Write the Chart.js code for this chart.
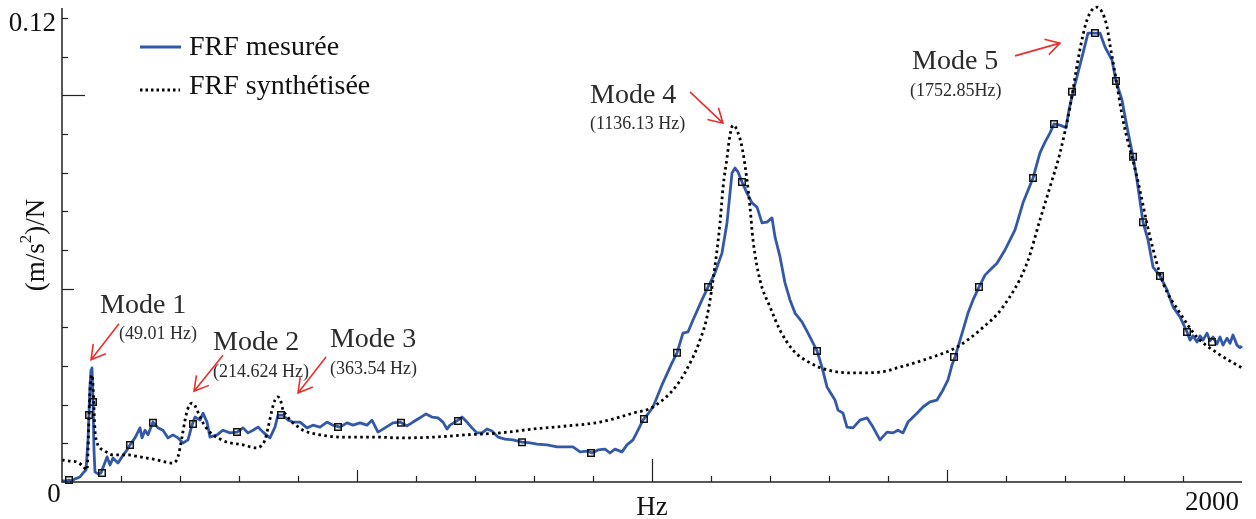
<!DOCTYPE html>
<html>
<head>
<meta charset="utf-8">
<script src="https://cdn.jsdelivr.net/npm/chart.js@4.4.1/dist/chart.umd.min.js"></script>
<style>
  html, body { margin: 0; padding: 0; background: #fff; }
  #wrap { width: 1256px; height: 519px; position: relative; }
</style>
</head>
<body>
<div id="wrap"><canvas id="c" width="1256" height="519"></canvas></div>
<script>
// ---------------- DATA ----------------
const seriesNames = ['FRF mesurée', 'FRF synthétisée'];

// Measured FRF (Hz, (m/s²)/N)
const freqMeasured = [0,6.8,11.9,16.9,22.0,30.5,37.3,40.7,44.1,47.5,49.2,50.8,52.5,54.2,55.9,61.0,66.1,71.2,76.3,81.4,86.4,94.9,101.7,110.2,115.3,123.7,132.2,135.6,140.7,145.8,154.2,162.7,171.2,179.7,188.1,196.6,205.1,213.6,220.3,225.4,233.9,239.0,245.8,250.8,262.7,272.9,284.7,296.6,306.8,315.3,323.7,332.2,340.7,352.5,361.0,366.1,374.6,383.1,391.5,403.4,415.3,425.4,437.3,449.2,459.3,471.2,483.1,493.2,505.1,516.9,525.4,535.6,547.5,561.0,572.9,584.7,594.9,606.8,616.9,627.1,637.3,645.8,652.5,657.6,671.2,678.0,686.4,694.9,703.4,711.9,720.3,728.8,739.0,750.8,764.4,779.7,793.2,805.1,822.0,839.0,849.2,866.1,878.0,889.8,898.3,908.5,920.3,928.8,937.3,949.2,957.6,967.8,974.6,984.7,993.2,1001.7,1016.9,1033.9,1042.4,1052.5,1061.0,1069.5,1084.7,1094.9,1106.8,1118.6,1127.1,1135.6,1140.7,1145.8,1152.5,1161.0,1169.5,1178.0,1186.4,1194.9,1203.4,1208.5,1217.0,1225.4,1233.9,1242.4,1254.2,1264.4,1279.7,1288.1,1296.6,1301.7,1310.2,1315.3,1323.7,1330.5,1340.7,1352.5,1364.4,1374.6,1386.4,1398.3,1408.5,1416.9,1425.4,1433.9,1449.2,1459.3,1471.2,1483.1,1493.2,1501.7,1508.5,1513.6,1518.6,1527.1,1535.6,1544.1,1554.2,1564.4,1572.9,1584.7,1598.3,1615.3,1628.8,1645.8,1654.2,1657.6,1666.1,1674.6,1681.4,1691.5,1701.7,1706.8,1713.6,1722.0,1730.5,1739.0,1750.8,1759.3,1767.8,1779.7,1786.4,1796.6,1805.1,1815.3,1822.0,1832.2,1840.7,1849.2,1861.0,1872.9,1883.1,1894.9,1906.8,1911.9,1916.9,1923.7,1928.8,1933.9,1940.7,1945.8,1950.8,1957.6,1962.7,1967.8,1974.6,1979.7,1984.7,1991.5,1996.6,2000];
const valMeasured = [0.0003,0.0003,0.0005,0.0003,0.0008,0.0013,0.0026,0.0031,0.0109,0.0251,0.0290,0.0295,0.0212,0.0083,0.0026,0.0021,0.0023,0.0044,0.0065,0.0044,0.0062,0.0049,0.0065,0.0083,0.0096,0.0114,0.0140,0.0114,0.0134,0.0122,0.0155,0.0140,0.0134,0.0114,0.0122,0.0114,0.0101,0.0109,0.0147,0.0168,0.0160,0.0178,0.0155,0.0116,0.0122,0.0134,0.0127,0.0129,0.0140,0.0127,0.0134,0.0142,0.0129,0.0114,0.0142,0.0173,0.0173,0.0160,0.0155,0.0155,0.0140,0.0147,0.0142,0.0155,0.0147,0.0142,0.0153,0.0147,0.0153,0.0147,0.0160,0.0129,0.0140,0.0153,0.0155,0.0145,0.0155,0.0166,0.0176,0.0168,0.0166,0.0155,0.0137,0.0147,0.0160,0.0168,0.0155,0.0140,0.0127,0.0127,0.0137,0.0132,0.0116,0.0111,0.0109,0.0103,0.0101,0.0098,0.0096,0.0091,0.0091,0.0091,0.0078,0.0080,0.0075,0.0083,0.0085,0.0075,0.0085,0.0078,0.0096,0.0109,0.0129,0.0160,0.0176,0.0194,0.0251,0.0308,0.0334,0.0385,0.0388,0.0419,0.0471,0.0504,0.0541,0.0592,0.0670,0.0799,0.0812,0.0802,0.0776,0.0747,0.0722,0.0711,0.0670,0.0672,0.0683,0.0634,0.0582,0.0515,0.0471,0.0437,0.0414,0.0385,0.0339,0.0297,0.0246,0.0233,0.0212,0.0186,0.0178,0.0142,0.0140,0.0160,0.0166,0.0142,0.0109,0.0129,0.0127,0.0134,0.0127,0.0155,0.0178,0.0194,0.0207,0.0212,0.0238,0.0264,0.0303,0.0323,0.0349,0.0393,0.0437,0.0471,0.0504,0.0535,0.0548,0.0566,0.0600,0.0652,0.0722,0.0786,0.0833,0.0851,0.0879,0.0903,0.0926,0.0923,0.0916,0.0962,0.1009,0.1058,0.1109,0.1161,0.1161,0.1161,0.1125,0.1091,0.1037,0.0988,0.0918,0.0841,0.0781,0.0672,0.0626,0.0556,0.0533,0.0497,0.0453,0.0427,0.0388,0.0367,0.0378,0.0362,0.0378,0.0367,0.0385,0.0365,0.0375,0.0357,0.0375,0.0354,0.0372,0.0359,0.0380,0.0354,0.0347,0.0352];

// Synthesised FRF
const freqSynth = [0,13.6,25.4,35.6,42.4,44.1,45.8,47.5,50.8,52.5,55.9,59.3,64.4,69.5,86.4,110.2,132.2,161.0,174.6,188.1,193.2,196.6,203.4,208.5,213.6,220.3,225.4,228.8,239.0,247.5,255.9,267.8,279.7,306.8,330.5,337.3,344.1,349.2,355.9,361.0,366.1,371.2,374.6,381.4,386.4,396.6,408.5,437.3,476.3,533.9,572.9,628.8,686.4,742.4,798.3,855.9,911.9,967.8,1001.7,1042.4,1069.5,1081.4,1093.2,1103.4,1115.3,1120.3,1127.1,1132.2,1137.3,1144.1,1152.5,1161.0,1166.1,1171.2,1183.1,1200.0,1216.9,1239.0,1267.8,1296.6,1340.7,1386.4,1415.3,1471.2,1516.9,1555.9,1594.9,1635.6,1657.6,1674.6,1691.5,1708.5,1722.0,1730.5,1737.3,1745.8,1754.2,1762.7,1771.2,1776.3,1784.7,1798.3,1822.0,1844.1,1866.1,1894.9,1923.7,1957.6,2000];
const valSynth = [0.0057,0.0054,0.0052,0.0041,0.0031,0.0083,0.0173,0.0238,0.0277,0.0251,0.0134,0.0103,0.0088,0.0083,0.0070,0.0070,0.0065,0.0057,0.0052,0.0049,0.0054,0.0065,0.0116,0.0160,0.0191,0.0204,0.0197,0.0186,0.0153,0.0134,0.0122,0.0111,0.0103,0.0096,0.0088,0.0093,0.0109,0.0140,0.0186,0.0212,0.0220,0.0207,0.0186,0.0171,0.0160,0.0147,0.0134,0.0122,0.0116,0.0116,0.0114,0.0116,0.0122,0.0127,0.0137,0.0145,0.0155,0.0178,0.0194,0.0251,0.0323,0.0367,0.0427,0.0522,0.0670,0.0760,0.0838,0.0897,0.0923,0.0910,0.0866,0.0781,0.0711,0.0626,0.0522,0.0453,0.0393,0.0341,0.0308,0.0290,0.0282,0.0284,0.0295,0.0321,0.0349,0.0393,0.0453,0.0566,0.0678,0.0763,0.0851,0.0970,0.1091,0.1156,0.1195,0.1221,0.1228,0.1216,0.1177,0.1130,0.1058,0.0936,0.0789,0.0634,0.0515,0.0437,0.0375,0.0334,0.0295];

// Square markers (measurement points)
const freqMarkers = [11.9,45.8,52.5,67.8,115.3,154.2,222.0,296.6,371.2,467.8,574.6,671.2,779.7,896.6,986.4,1042.4,1094.9,1152.5,1279.7,1511.9,1554.2,1645.8,1681.4,1711.9,1750.8,1786.4,1815.3,1832.2,1861.0,1906.8,1949.2];
const valMarkers  = [0.0005,0.0173,0.0207,0.0023,0.0096,0.0153,0.0150,0.0129,0.0173,0.0142,0.0153,0.0158,0.0103,0.0075,0.0163,0.0334,0.0504,0.0776,0.0339,0.0323,0.0504,0.0786,0.0926,0.1009,0.1161,0.1037,0.0841,0.0672,0.0533,0.0388,0.0362];

// Axis
const xMin = 0, xMax = 2000, xStep = 100;
const yMin = 0, yMax = 0.12, yStep = 0.01;
const xTickLabels = ['0', 'Hz', '2000'];
const yTickLabels = ['0.12'];
const yAxisTitle = ['(m/s', '2', ')/N'];

// Mode annotations
const modeNames = ['Mode 1', 'Mode 2', 'Mode 3', 'Mode 4', 'Mode 5'];
const modeFreqs = ['(49.01 Hz)', '(214.624 Hz)', '(363.54 Hz)', '(1136.13 Hz)', '(1752.85Hz)'];

// ---------------- LAYOUT (placement only) ----------------
const titleAnchor = [[64.4,0.0437],[255.9,0.0341],[454.2,0.0349],[894.9,0.0980],[1440.7,0.1068]];
const subAnchor   = [[96.6,0.0370],[255.9,0.0272],[454.2,0.0279],[894.9,0.0913],[1437.3,0.0998]];
const arrowTail   = [[96.6,0.0409],[272.9,0.0328],[447.5,0.0323],[1064.4,0.1009],[1615.3,0.1102]];
const arrowTip    = [[49.2,0.0316],[223.7,0.0235],[400.0,0.0230],[1120.3,0.0928],[1691.5,0.1135]];

const SERIF = '"Liberation Serif", "Times New Roman", serif';
const BLUE = '#3458a8';

function pts(xs, ys) { return xs.map((v, i) => ({ x: v, y: ys[i] })); }

const decor = {
  id: 'decor',
  afterDraw(chart) {
    const { ctx, chartArea: ca, scales: { x, y } } = chart;
    ctx.save();
    // axes lines
    ctx.strokeStyle = '#222';
    ctx.lineWidth = 1.5;
    ctx.beginPath();
    ctx.moveTo(ca.left, ca.top - 10);
    ctx.lineTo(ca.left, ca.bottom);
    ctx.lineTo(x.getPixelForValue(xMax), ca.bottom);
    ctx.stroke();
    // x ticks (inward)
    ctx.lineWidth = 1.2;
    for (let v = xStep; v < xMax; v += xStep) {
      const px = Math.round(x.getPixelForValue(v)) + 0.5;
      const len = (v % 1000 === 0) ? 23 : (v % 500 === 0 ? 12 : 6);
      ctx.beginPath(); ctx.moveTo(px, ca.bottom); ctx.lineTo(px, ca.bottom - len); ctx.stroke();
    }
    // y ticks (inward)
    for (let k = 1; k <= Math.round(yMax / yStep); k++) {
      const py = Math.round(y.getPixelForValue(k * yStep)) + 0.5;
      const len = (k % 10 === 0) ? 23 : (k % 5 === 0 ? 12 : 6);
      ctx.beginPath(); ctx.moveTo(ca.left, py); ctx.lineTo(ca.left + len, py); ctx.stroke();
    }
    // tick labels
    ctx.fillStyle = '#111';
    ctx.font = '27px ' + SERIF;
    ctx.textBaseline = 'alphabetic';
    ctx.textAlign = 'center';
    ctx.fillText(xTickLabels[0], ca.left - 8, ca.bottom + 20);
    ctx.fillText(xTickLabels[1], x.getPixelForValue(1000), ca.bottom + 33);
    ctx.textAlign = 'right';
    ctx.fillText(xTickLabels[2], x.getPixelForValue(xMax) - 3, ca.bottom + 28);
    ctx.fillText(yTickLabels[0], ca.left - 6, y.getPixelForValue(yMax) + 13);

    // y axis title with superscript
    ctx.save();
    ctx.translate(37, (ca.top + ca.bottom) / 2 - 5);
    ctx.rotate(-Math.PI / 2);
    ctx.font = '27px ' + SERIF;
    const w1 = ctx.measureText(yAxisTitle[0]).width;
    const w3 = ctx.measureText(yAxisTitle[2]).width;
    ctx.font = '17px ' + SERIF;
    const w2 = ctx.measureText(yAxisTitle[1]).width;
    let sx = -(w1 + w2 + w3) / 2;
    ctx.textAlign = 'left';
    ctx.textBaseline = 'middle';
    ctx.font = '27px ' + SERIF;
    ctx.fillText(yAxisTitle[0], sx, 0);
    ctx.font = '17px ' + SERIF;
    ctx.fillText(yAxisTitle[1], sx + w1, -10);
    ctx.font = '27px ' + SERIF;
    ctx.fillText(yAxisTitle[2], sx + w1 + w2, 0);
    ctx.restore();

    // legend
    ctx.textAlign = 'left';
    ctx.textBaseline = 'alphabetic';
    ctx.font = '28px ' + SERIF;
    ctx.fillStyle = '#111';
    ctx.strokeStyle = BLUE; ctx.lineWidth = 2.8; ctx.setLineDash([]);
    ctx.beginPath(); ctx.moveTo(140, 47); ctx.lineTo(181, 47); ctx.stroke();
    ctx.fillText(seriesNames[0], 189, 55);
    ctx.strokeStyle = '#000'; ctx.lineWidth = 2.8; ctx.setLineDash([2.5, 3]);
    ctx.beginPath(); ctx.moveTo(140, 90); ctx.lineTo(180, 90); ctx.stroke();
    ctx.setLineDash([]);
    ctx.fillText(seriesNames[1], 189, 94);

    // mode annotations
    ctx.fillStyle = '#2b2b2b';
    for (let i = 0; i < modeNames.length; i++) {
      ctx.font = '28px ' + SERIF;
      ctx.fillText(modeNames[i], x.getPixelForValue(titleAnchor[i][0]), y.getPixelForValue(titleAnchor[i][1]));
      ctx.font = '18px ' + SERIF;
      ctx.fillText(modeFreqs[i], x.getPixelForValue(subAnchor[i][0]), y.getPixelForValue(subAnchor[i][1]));
      // arrow
      const tx = x.getPixelForValue(arrowTail[i][0]), ty = y.getPixelForValue(arrowTail[i][1]);
      const hx = x.getPixelForValue(arrowTip[i][0]), hy = y.getPixelForValue(arrowTip[i][1]);
      const ang = Math.atan2(hy - ty, hx - tx);
      const L = 16, a = Math.PI / 6;
      ctx.strokeStyle = '#e8312b'; ctx.lineWidth = 1.6;
      ctx.beginPath();
      ctx.moveTo(tx, ty); ctx.lineTo(hx, hy);
      ctx.moveTo(hx - L * Math.cos(ang - a), hy - L * Math.sin(ang - a));
      ctx.lineTo(hx, hy);
      ctx.lineTo(hx - L * Math.cos(ang + a), hy - L * Math.sin(ang + a));
      ctx.stroke();
    }
    ctx.restore();
  }
};

new Chart(document.getElementById('c'), {
  type: 'line',
  data: {
    datasets: [
      {
        label: 'points',
        data: pts(freqMarkers, valMarkers),
        showLine: false,
        pointStyle: 'rect',
        pointRadius: 4.6,
        borderColor: '#111',
        borderWidth: 1.5,
        backgroundColor: 'rgba(0,0,0,0)',
        clip: false
      },
      {
        label: seriesNames[1],
        data: pts(freqSynth, valSynth),
        borderColor: '#000',
        borderWidth: 2.8,
        borderDash: [2.6, 3.4],
        pointRadius: 0,
        fill: false,
        cubicInterpolationMode: 'monotone',
        clip: false
      },
      {
        label: seriesNames[0],
        data: pts(freqMeasured, valMeasured),
        borderColor: BLUE,
        borderWidth: 2.8,
        pointRadius: 0,
        fill: false,
        tension: 0,
        borderJoinStyle: 'round',
        clip: false
      }
    ]
  },
  options: {
    responsive: false,
    animation: false,
    events: [],
    layout: { padding: { left: 62, right: 14, top: 18, bottom: 37 } },
    plugins: { legend: { display: false }, tooltip: { enabled: false } },
    scales: {
      x: { type: 'linear', min: xMin, max: xMax, display: false },
      y: { type: 'linear', min: yMin, max: yMax, display: false }
    }
  },
  plugins: [decor]
});
</script>
</body>
</html>
